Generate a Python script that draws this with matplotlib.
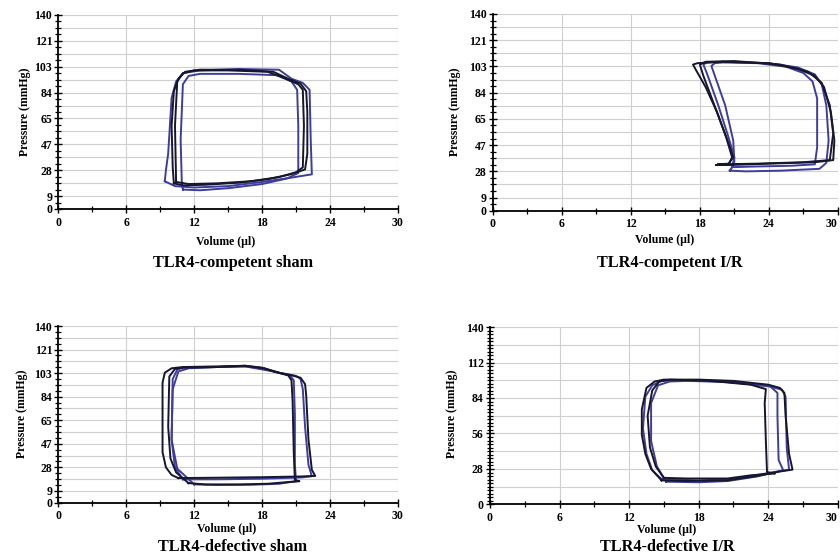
import matplotlib
matplotlib.use("Agg")
import matplotlib.pyplot as plt
import numpy as np

plt.rcParams['font.family'] = ['Liberation Serif', 'DejaVu Serif']
plt.rcParams['font.weight'] = 'bold'

# ---------------- data ----------------
titles = ["TLR4-competent sham", "TLR4-competent I/R",
          "TLR4-defective sham", "TLR4-defective I/R"]

x_ticks = [0, 6, 12, 18, 24, 30]
y_labels_a = ["0", "9", "28", "47", "65", "84", "103", "121", "140"]
y_labels_b = ["0", "28", "56", "84", "112", "140"]

# Panel 1: TLR4-competent sham (volume, pressure)
sham_c_black1_v = [10.2, 11.0, 13.0, 16.0, 18.5, 20.5, 21.8, 22.0, 22.0, 21.9, 21.4, 20.3, 19.0, 16.0, 12.5, 11.2, 10.6, 10.2, 10.0, 10.1, 10.2]
sham_c_black1_p = [18.5, 17.0, 17.5, 19.0, 21.5, 25.0, 28.5, 40.0, 70.0, 85.0, 90.5, 94.0, 99.0, 100.5, 100.5, 99.0, 94.0, 85.0, 60.0, 30.0, 18.5]
sham_c_black2_v = [10.4, 11.5, 14.0, 17.0, 19.5, 21.0, 21.6, 21.7, 21.6, 21.2, 20.2, 18.5, 15.0, 12.0, 11.0, 10.5, 10.3, 10.4]
sham_c_black2_p = [19.5, 18.0, 18.5, 20.0, 23.0, 26.5, 30.0, 60.0, 86.0, 90.0, 93.5, 99.0, 100.0, 100.0, 98.0, 92.0, 60.0, 19.5]
sham_c_blue1_v = [9.4, 10.3, 12.0, 15.0, 18.0, 20.5, 22.0, 22.4, 22.3, 22.2, 21.6, 20.6, 19.5, 16.0, 12.5, 11.0, 10.4, 10.0, 9.7, 9.5, 9.4]
sham_c_blue1_p = [20.0, 16.5, 15.5, 16.5, 19.5, 22.5, 24.5, 25.0, 50.0, 86.0, 91.0, 94.0, 100.5, 101.0, 100.0, 98.0, 92.0, 80.0, 40.0, 28.0, 20.0]
sham_c_blue2_v = [11.0, 12.5, 15.0, 18.0, 20.2, 21.2, 21.2, 21.1, 20.6, 19.5, 16.0, 12.5, 11.5, 11.0, 10.8, 10.9, 11.0]
sham_c_blue2_p = [14.0, 13.5, 15.0, 18.0, 22.0, 26.0, 60.0, 86.0, 92.0, 96.5, 97.5, 97.5, 96.0, 90.0, 50.0, 20.0, 14.0]

# Panel 2: TLR4-competent I/R
ir_c_black1_v = [19.4, 20.5, 24.0, 28.0, 29.6, 29.7, 29.4, 28.8, 28.0, 26.5, 24.0, 20.0, 17.8, 17.4, 17.6, 18.5, 19.5, 20.3, 20.8, 20.5, 19.4]
ir_c_black1_p = [32.5, 32.5, 33.5, 34.5, 36.0, 50.0, 70.0, 88.0, 96.0, 101.0, 105.0, 106.0, 105.0, 104.0, 101.0, 88.0, 70.0, 52.0, 38.0, 33.0, 32.5]
ir_c_black2_v = [19.6, 23.0, 27.0, 29.3, 29.6, 29.3, 28.6, 27.4, 25.0, 21.0, 18.5, 18.0, 18.3, 19.4, 20.4, 20.9, 20.5, 19.6]
ir_c_black2_p = [33.0, 33.5, 34.5, 36.0, 55.0, 75.0, 91.0, 99.0, 104.0, 106.5, 106.0, 104.0, 96.0, 72.0, 50.0, 38.0, 33.5, 33.0]
ir_c_blue1_v = [20.6, 22.0, 25.0, 28.4, 29.0, 29.2, 29.0, 28.6, 28.0, 26.5, 24.0, 20.0, 18.6, 18.3, 18.6, 19.6, 20.5, 21.0, 20.8, 20.6]
ir_c_blue1_p = [28.5, 28.0, 28.5, 29.8, 34.0, 50.0, 75.0, 90.0, 97.0, 102.0, 105.0, 106.0, 105.5, 104.0, 98.0, 75.0, 52.0, 38.0, 31.0, 28.5]
ir_c_blue2_v = [20.8, 23.0, 26.0, 28.0, 28.2, 28.2, 27.8, 27.0, 25.5, 23.0, 20.0, 19.3, 19.0, 19.3, 20.2, 20.9, 21.0, 20.8]
ir_c_blue2_p = [31.0, 31.5, 32.0, 33.0, 45.0, 80.0, 92.0, 98.0, 102.5, 105.0, 105.5, 105.0, 103.0, 96.0, 75.0, 50.0, 35.0, 31.0]

# Panel 3: TLR4-defective sham
sham_d_black1_v = [10.6, 14.0, 18.0, 21.5, 22.7, 22.4, 22.1, 21.9, 21.8, 21.4, 20.6, 19.5, 18.2, 16.5, 14.0, 11.0, 10.0, 9.4, 9.2, 9.2, 9.5, 10.0, 10.6]
sham_d_black1_p = [19.5, 19.8, 20.2, 20.8, 21.2, 26.0, 50.0, 85.0, 94.0, 99.0, 101.0, 103.0, 106.5, 108.5, 108.0, 107.5, 106.5, 103.0, 95.0, 40.0, 28.0, 22.0, 19.5]
sham_d_black2_v = [11.5, 13.0, 16.0, 18.5, 20.5, 21.3, 20.9, 20.8, 20.7, 20.6, 20.3, 19.0, 18.0, 16.5, 14.0, 11.0, 10.3, 9.8, 9.7, 9.9, 10.4, 11.5]
sham_d_black2_p = [15.5, 14.5, 14.5, 15.0, 16.5, 17.0, 18.0, 40.0, 80.0, 97.0, 101.0, 104.0, 107.0, 108.5, 107.5, 107.0, 106.0, 100.0, 60.0, 35.0, 24.0, 15.5]
sham_d_blue1_v = [11.0, 14.0, 18.0, 21.5, 22.4, 22.1, 21.8, 21.6, 21.4, 21.0, 19.5, 18.0, 16.5, 14.0, 11.0, 10.5, 10.1, 10.0, 10.3, 11.0]
sham_d_blue1_p = [18.5, 18.5, 19.0, 20.0, 21.0, 30.0, 60.0, 90.0, 98.0, 100.5, 103.0, 106.5, 108.0, 107.5, 107.0, 105.5, 98.0, 50.0, 28.0, 18.5]
sham_d_blue2_v = [12.0, 14.0, 17.0, 19.5, 21.0, 20.9, 20.9, 20.8, 20.5, 19.0, 16.5, 14.0, 11.5, 10.6, 10.1, 10.0, 10.5, 12.0]
sham_d_blue2_p = [14.5, 14.0, 14.2, 15.0, 17.0, 30.0, 70.0, 97.0, 100.5, 104.0, 108.0, 107.5, 106.5, 104.0, 90.0, 50.0, 27.0, 14.5]

# Panel 4: TLR4-defective I/R
ir_d_black1_v = [14.8, 17.0, 20.5, 23.0, 25.0, 26.1, 25.8, 25.5, 25.4, 25.0, 24.0, 21.0, 18.0, 15.0, 14.2, 13.5, 13.1, 13.1, 13.4, 13.9, 14.8]
ir_d_black1_p = [19.0, 18.5, 19.0, 22.5, 26.0, 27.5, 40.0, 70.0, 88.0, 92.0, 94.5, 97.5, 98.5, 98.5, 97.0, 92.0, 75.0, 55.0, 40.0, 28.0, 19.0]
ir_d_black2_v = [15.0, 17.0, 20.5, 22.5, 24.6, 23.9, 23.8, 23.7, 23.8, 22.5, 19.0, 15.5, 14.6, 14.0, 13.6, 13.8, 14.3, 15.0]
ir_d_black2_p = [21.0, 20.5, 20.5, 23.0, 24.5, 25.5, 50.0, 80.0, 91.0, 94.5, 97.5, 98.5, 97.0, 90.0, 70.0, 45.0, 30.0, 21.0]
ir_d_blue1_v = [15.2, 18.0, 20.5, 23.0, 25.3, 24.9, 24.8, 24.8, 24.2, 21.0, 17.0, 15.5, 14.5, 13.9, 13.9, 14.4, 15.2]
ir_d_blue1_p = [18.0, 17.5, 18.5, 22.0, 27.0, 35.0, 70.0, 88.0, 93.0, 96.5, 97.5, 97.0, 94.0, 80.0, 50.0, 30.0, 18.0]
ir_d_blue2_v = [14.8, 18.0, 21.0, 23.5, 25.8, 25.6, 25.5, 25.2, 24.0, 20.0, 16.0, 14.8, 14.0, 13.4, 13.2, 13.5, 14.0, 14.8]
ir_d_blue2_p = [20.0, 19.0, 20.0, 24.0, 27.5, 45.0, 85.0, 90.5, 93.5, 97.0, 98.0, 97.5, 94.0, 85.0, 60.0, 40.0, 27.0, 20.0]

BLACK = "#16162c"
BLUE = "#3d3da0"

panels = [
    dict(loops=[(sham_c_blue1_v, sham_c_blue1_p, BLUE), (sham_c_blue2_v, sham_c_blue2_p, BLUE),
                (sham_c_black2_v, sham_c_black2_p, BLACK), (sham_c_black1_v, sham_c_black1_p, BLACK)],
         rect=[0.0696, 0.6248, 0.404, 0.3483], ylab=y_labels_a, step=140 / 15.0, scale="a", cut=False),
    dict(loops=[(ir_c_blue1_v, ir_c_blue1_p, BLUE), (ir_c_blue2_v, ir_c_blue2_p, BLUE),
                (ir_c_black2_v, ir_c_black2_p, BLACK), (ir_c_black1_v, ir_c_black1_p, BLACK)],
         rect=[0.5869, 0.6217, 0.4105, 0.3532], ylab=y_labels_a, step=140 / 15.0, scale="a", cut=True),
    dict(loops=[(sham_d_blue1_v, sham_d_blue1_p, BLUE), (sham_d_blue2_v, sham_d_blue2_p, BLUE),
                (sham_d_black2_v, sham_d_black2_p, BLACK), (sham_d_black1_v, sham_d_black1_p, BLACK)],
         rect=[0.0696, 0.0975, 0.404, 0.3172], ylab=y_labels_a, step=140 / 15.0, scale="a", cut=False),
    dict(loops=[(ir_d_blue1_v, ir_d_blue1_p, BLUE), (ir_d_blue2_v, ir_d_blue2_p, BLUE),
                (ir_d_black2_v, ir_d_black2_p, BLACK), (ir_d_black1_v, ir_d_black1_p, BLACK)],
         rect=[0.5833, 0.0943, 0.4140, 0.3186], ylab=y_labels_b, step=14.0, scale="b", cut=True),
]

fig = plt.figure(figsize=(8.4, 5.57), dpi=100)
fig.patch.set_facecolor("white")

for pnl in panels:
    ax = fig.add_axes(pnl["rect"])
    ax.set_xlim(0, 30)
    ax.set_ylim(0, 140)
    ax.set_facecolor("white")
    for v, p, c in pnl["loops"]:
        ax.plot(v, p, color=c, lw=1.4, solid_joinstyle="round", clip_on=False)
    # grid lines
    step = pnl["step"]
    nlines = int(round(140 / step))
    ygrid = [step * k for k in range(1, nlines + 1)]
    for yg in ygrid:
        ax.axhline(yg, color="#cfcfcf", lw=0.8, zorder=0)
    for xg in x_ticks[1:]:
        ax.axvline(xg, color="#cfcfcf", lw=0.8, zorder=0)
    # ticks
    ax.set_xticks(x_ticks)
    ax.set_xticklabels([str(t) for t in x_ticks])
    ax.set_xticks([3, 9, 15, 21, 27], minor=True)
    if pnl["scale"] == "a":
        ypos = [0] + [step * k for k in range(1, 16, 2)]
        ax.set_yticks(ypos)
        ax.set_yticklabels(pnl["ylab"])
        ax.set_yticks([step * k / 2.0 for k in range(1, 30) if k % 4 != 0 and k % 4 != 2] +
                      [step * k for k in range(2, 15, 2)], minor=True)
    else:
        ypos = [28 * k for k in range(6)]
        ax.set_yticks(ypos)
        ax.set_yticklabels(pnl["ylab"])
        ax.set_yticks([2.8 * k for k in range(1, 50) if k % 10 != 0], minor=True)
    ax.tick_params(axis="both", which="major", direction="inout", length=6, width=1.0,
                   labelsize=8.5, colors="black")
    ax.tick_params(axis="y", which="major", pad=1.5)
    ax.tick_params(axis="x", which="major", pad=2.5)
    ax.tick_params(axis="both", which="minor", direction="inout", length=4, width=0.9, colors="black")
    for lab in ax.get_xticklabels() + ax.get_yticklabels():
        lab.set_fontweight("bold")
    if pnl["cut"]:
        ax.get_xticklabels()[-1].set_horizontalalignment("right")
    ax.spines["top"].set_visible(False)
    ax.spines["right"].set_visible(False)
    ax.spines["left"].set_linewidth(1.3)
    ax.spines["bottom"].set_linewidth(1.3)

W, H = 840.0, 557.0
def ftext(x, y, s, size, rot=0):
    fig.text(x / W, 1 - y / H, s, ha="center", va="center", fontsize=size,
             fontweight="bold", rotation=rot)

# y-axis labels
ftext(25, 112, "Pressure (mmHg)", 8.5, 90)
ftext(455, 112, "Pressure (mmHg)", 8.5, 90)
ftext(22, 414, "Pressure (mmHg)", 8.5, 90)
ftext(452, 414, "Pressure (mmHg)", 8.5, 90)
# x-axis labels
ftext(226, 242, "Volume (\u03bcl)", 8.5)
ftext(665, 240, "Volume (\u03bcl)", 8.5)
ftext(227, 529, "Volume (\u03bcl)", 8.5)
ftext(667, 530, "Volume (\u03bcl)", 8.5)
# titles
ftext(233, 263, titles[0], 11.7)
ftext(670, 263, titles[1], 11.7)
ftext(233, 547, titles[2], 11.7)
ftext(667, 547, titles[3], 11.7)

fig.savefig("out.png", dpi=100, facecolor="white")
